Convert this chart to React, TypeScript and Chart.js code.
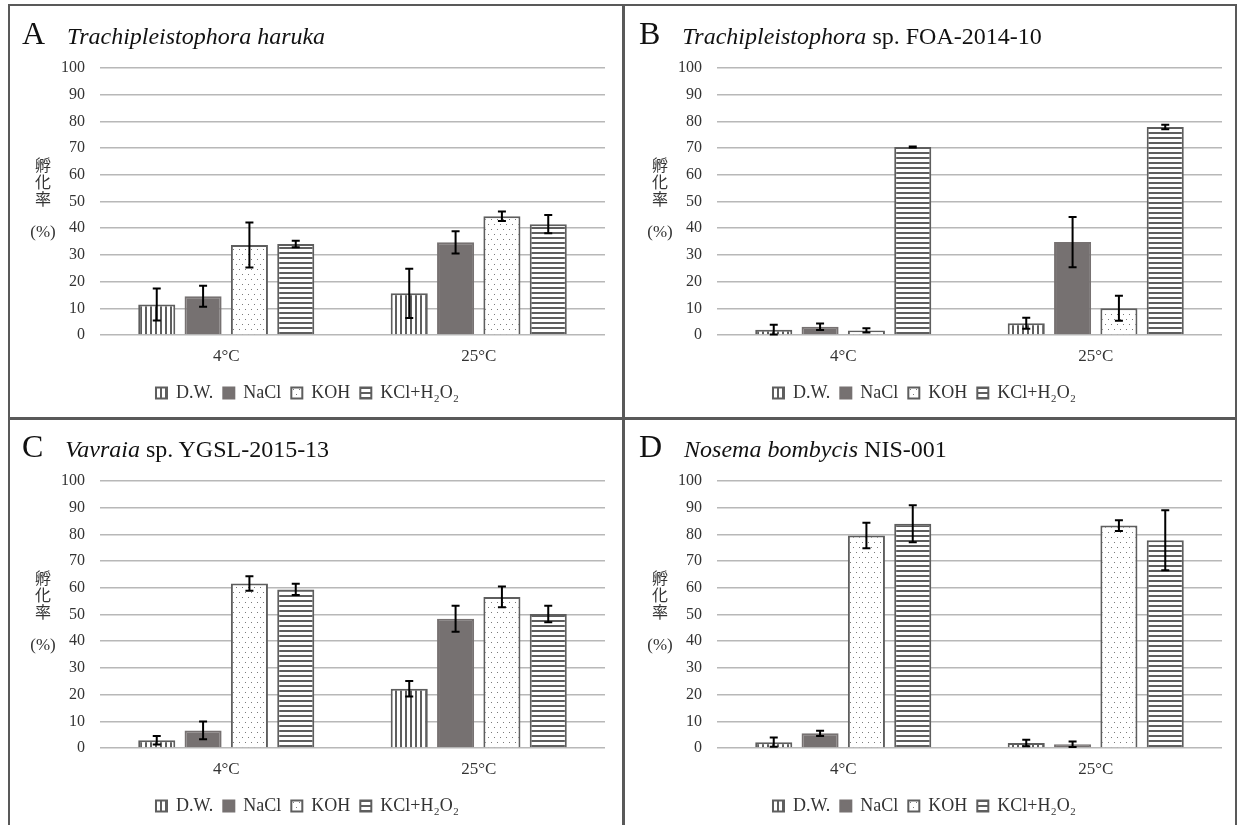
import React, { useEffect, useRef } from 'react';
import { Chart, registerables } from 'chart.js';

Chart.register(...registerables);

// ---------- data ----------
const categories = ['4°C', '25°C'];
const seriesNames = ['D.W.', 'NaCl', 'KOH', 'KCl+H₂O₂'];
const yMin = 0;
const yMax = 100;
const yStep = 10;

// Panel A: Trachipleistophora haruka
const A_DW = [11.4, 15.6];
const A_NaCl = [14.5, 34.7];
const A_KOH = [33.7, 44.5];
const A_KCl = [34.1, 41.5];
const A_DW_err = [6.0, 9.2];
const A_NaCl_err = [3.9, 4.2];
const A_KOH_err = [8.4, 1.8];
const A_KCl_err = [1.2, 3.4];

// Panel B: Trachipleistophora sp. FOA-2014-10
const B_DW = [2.0, 4.4];
const B_NaCl = [3.1, 34.8];
const B_KOH = [1.7, 10.0];
const B_KCl = [70.4, 77.9];
const B_DW_err = [1.8, 2.1];
const B_NaCl_err = [1.2, 9.4];
const B_KOH_err = [0.8, 4.7];
const B_KCl_err = [0.2, 0.8];

// Panel C: Vavraia sp. YGSL-2015-13
const C_DW = [2.9, 22.2];
const C_NaCl = [6.6, 48.4];
const C_KOH = [61.6, 56.6];
const C_KCl = [59.4, 50.2];
const C_DW_err = [1.6, 2.9];
const C_NaCl_err = [3.3, 4.9];
const C_KOH_err = [2.7, 3.9];
const C_KCl_err = [2.1, 3.1];

// Panel D: Nosema bombycis NIS-001
const D_DW = [2.2, 1.9];
const D_NaCl = [5.5, 1.4];
const D_KOH = [79.6, 83.3];
const D_KCl = [84.0, 77.8];
const D_DW_err = [1.7, 1.2];
const D_NaCl_err = [1.0, 1.0];
const D_KOH_err = [4.8, 2.0];
const D_KCl_err = [6.9, 11.2];

const yAxisLabelChars = ['孵', '化', '率'];
const yAxisUnit = '(%)';

// ---------- styles ----------
const DARK = '#5e5e5e';
const SOLID = '#767171';
const SERIF = '"Liberation Serif", "Times New Roman", serif';

function makePattern(kind: string): CanvasPattern | string {
  const c = document.createElement('canvas');
  const ctx = c.getContext('2d')!;
  if (kind === 'vert') {
    c.width = 5; c.height = 5;
    ctx.fillStyle = '#fff'; ctx.fillRect(0, 0, 5, 5);
    ctx.fillStyle = DARK; ctx.fillRect(0, 0, 2, 5);
  } else if (kind === 'horiz') {
    c.width = 5; c.height = 5;
    ctx.fillStyle = '#fff'; ctx.fillRect(0, 0, 5, 5);
    ctx.fillStyle = DARK; ctx.fillRect(0, 0, 5, 2);
  } else if (kind === 'dots') {
    c.width = 6; c.height = 10;
    ctx.fillStyle = '#fff'; ctx.fillRect(0, 0, 6, 10);
    ctx.fillStyle = '#7a7a7a';
    ctx.fillRect(1, 2, 1, 1);
    ctx.fillRect(4, 7, 1, 1);
  } else {
    return SOLID;
  }
  return ctx.createPattern(c, 'repeat')!;
}

const errorBarPlugin = {
  id: 'errorBars',
  afterDatasetsDraw(chart: any) {
    const ctx = chart.ctx;
    const yScale = chart.scales.y;
    chart.data.datasets.forEach((ds: any, i: number) => {
      const meta = chart.getDatasetMeta(i);
      meta.data.forEach((bar: any, j: number) => {
        const v = ds.data[j];
        const e = ds.errors[j];
        const x = bar.x;
        const yt = yScale.getPixelForValue(v + e);
        const yb = yScale.getPixelForValue(Math.max(0, v - e));
        ctx.save();
        ctx.strokeStyle = '#000';
        ctx.lineWidth = 2;
        ctx.beginPath();
        ctx.moveTo(x, yt); ctx.lineTo(x, yb);
        ctx.moveTo(x - 4, yt); ctx.lineTo(x + 4, yt);
        ctx.moveTo(x - 4, yb); ctx.lineTo(x + 4, yb);
        ctx.stroke();
        ctx.restore();
      });
    });
  },
};

type PanelProps = {
  dx: number;
  dy: number;
  letter: string;
  italic: string;
  rest: string;
  values: number[][];
  errors: number[][];
};

const CANVAS_W = 612;
const CANVAS_H = 410;

function Panel({ dx, dy, letter, italic, rest, values, errors }: PanelProps) {
  const ref = useRef<HTMLCanvasElement>(null);
  useEffect(() => {
    const fills = [makePattern('vert'), SOLID, makePattern('dots'), makePattern('horiz')];
    const borders = [DARK, SOLID, DARK, DARK];
    const chart = new Chart(ref.current!, {
      type: 'bar',
      data: {
        labels: categories,
        datasets: seriesNames.map((name, i) => ({
          label: name,
          data: values[i],
          errors: errors[i],
          backgroundColor: fills[i],
          borderColor: borders[i],
          borderWidth: 2,
          categoryPercentage: 0.734,
          barPercentage: 0.8,
        })) as any,
      },
      options: {
        animation: false,
        responsive: false,
        devicePixelRatio: 1,
        layout: { padding: { left: 0, top: 61, right: 17, bottom: 5 } },
        plugins: {
          legend: {
            position: 'bottom',
            labels: {
              boxWidth: 11,
              boxHeight: 11,
              padding: 10,
              color: '#333',
              font: { family: SERIF, size: 18 },
            },
          },
          tooltip: { enabled: false },
        },
        scales: {
          x: {
            grid: { display: false, drawTicks: false },
            border: { display: false },
            ticks: { color: '#333', padding: 11, font: { family: SERIF, size: 17 } },
            afterFit: (s: any) => { s.height = 39; },
          },
          y: {
            min: yMin,
            max: yMax,
            ticks: { stepSize: yStep, color: '#333', padding: 15, font: { family: SERIF, size: 16 } },
            grid: { color: '#b8b8b8', lineWidth: 1.5, drawTicks: false },
            border: { display: false },
            afterFit: (s: any) => { s.width = 90; },
          },
        },
      },
      plugins: [errorBarPlugin],
    });
    return () => chart.destroy();
  }, []);

  return (
    <>
      <canvas
        ref={ref}
        width={CANVAS_W}
        height={CANVAS_H}
        style={{ position: 'absolute', left: 10 + dx, top: 7 + dy, width: CANVAS_W, height: CANVAS_H }}
      />
      <div
        style={{
          position: 'absolute', left: 22 + dx, top: 17 + dy,
          display: 'flex', alignItems: 'baseline', fontFamily: SERIF, color: '#111', whiteSpace: 'nowrap',
        }}
      >
        <span style={{ fontSize: 32, lineHeight: 1 }}>{letter}</span>
        <span style={{ fontSize: 24, lineHeight: 1, marginLeft: 22 }}>
          <i>{italic}</i>{rest}
        </span>
      </div>
      <div
        style={{
          position: 'absolute', left: 28 + dx, top: 156 + dy, width: 30, textAlign: 'center', color: '#333',
        }}
      >
        {yAxisLabelChars.map((ch) => (
          <div key={ch} style={{ fontFamily: '"Noto Sans CJK JP", sans-serif', fontSize: 16, lineHeight: '17px' }}>{ch}</div>
        ))}
        <div style={{ fontFamily: SERIF, fontSize: 17, lineHeight: '18px', marginTop: 16 }}>{yAxisUnit}</div>
      </div>
    </>
  );
}

export default function App() {
  const line = (l: number, t: number, w: number, h: number) => (
    <div style={{ position: 'absolute', left: l, top: t, width: w, height: h, background: '#595959' }} />
  );
  return (
    <div style={{ position: 'fixed', left: 0, top: 0, width: 1239, height: 825, overflow: 'hidden', background: '#fff' }}>
      <Panel dx={0} dy={0} letter="A" italic="Trachipleistophora haruka" rest=""
        values={[A_DW, A_NaCl, A_KOH, A_KCl]} errors={[A_DW_err, A_NaCl_err, A_KOH_err, A_KCl_err]} />
      <Panel dx={617} dy={0} letter="B" italic="Trachipleistophora" rest=" sp. FOA-2014-10"
        values={[B_DW, B_NaCl, B_KOH, B_KCl]} errors={[B_DW_err, B_NaCl_err, B_KOH_err, B_KCl_err]} />
      <Panel dx={0} dy={413} letter="C" italic="Vavraia" rest=" sp. YGSL-2015-13"
        values={[C_DW, C_NaCl, C_KOH, C_KCl]} errors={[C_DW_err, C_NaCl_err, C_KOH_err, C_KCl_err]} />
      <Panel dx={617} dy={413} letter="D" italic="Nosema bombycis" rest=" NIS-001"
        values={[D_DW, D_NaCl, D_KOH, D_KCl]} errors={[D_DW_err, D_NaCl_err, D_KOH_err, D_KCl_err]} />
      {line(8, 4, 1229, 2)}
      {line(8, 4, 2, 825)}
      {line(1235, 4, 2, 825)}
      {line(622, 4, 3, 825)}
      {line(8, 417, 1229, 3)}
    </div>
  );
}
